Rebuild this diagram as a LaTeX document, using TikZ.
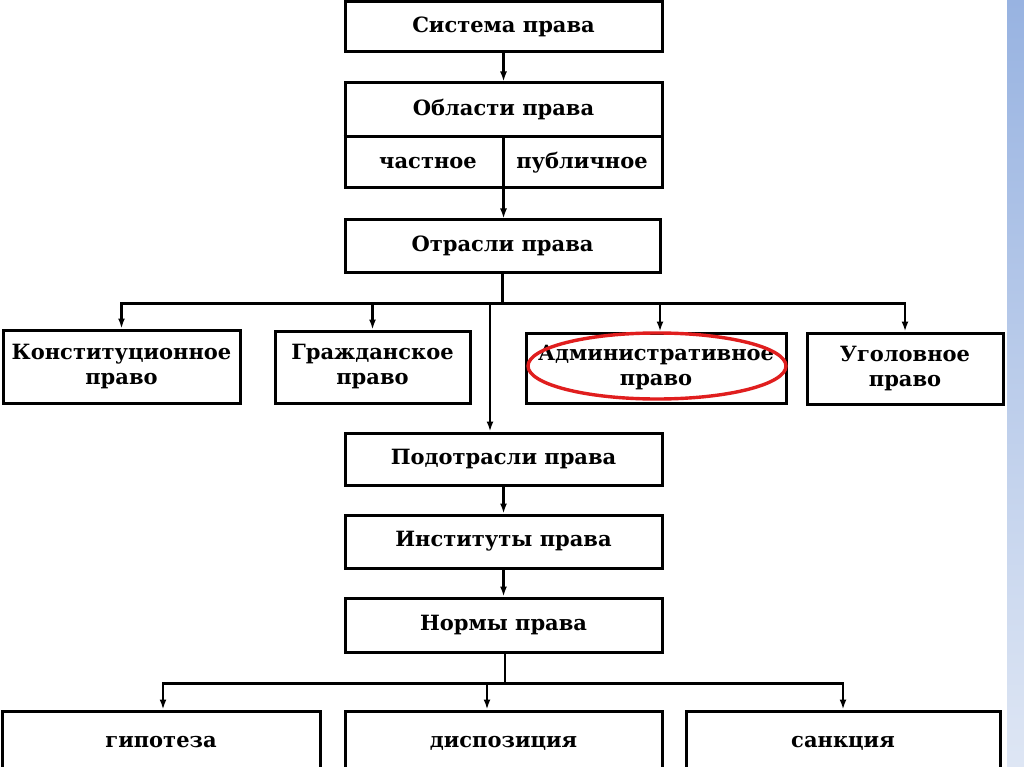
\documentclass[tikz,border=0pt]{standalone}
\usepackage{fontspec}
\setmainfont{DejaVu Serif}
\usetikzlibrary{arrows.meta, positioning}
\definecolor{markred}{HTML}{E01E1E}
\definecolor{stripetop}{HTML}{98B3E1}
\definecolor{stripebot}{HTML}{DEE6F4}

\begin{document}
\begin{tikzpicture}[
    x=1pt, y=-1pt,
    >={Latex[length=10pt,width=7pt]},
    line width=2.5pt,
    font=\fontsize{21}{25}\selectfont\bfseries,
    box/.style={draw=black, line width=3pt, rectangle, inner sep=0pt, minimum width=#1, align=center},
    box/.default=317pt,
    label_style/.style={inner sep=0pt},
    low_style/.style={text height=11pt, text depth=4pt}
]
    \useasboundingbox (0,0) rectangle (1024,767);
    \fill[white] (0,0) rectangle (1024,767);

    % Blue strip on the right edge
    \shade[top color=stripetop, bottom color=stripebot] (1007,0) rectangle (1024,767);

    % --- Upper chain ---
    \node[box, minimum height=50pt] (sys) at (503.5, 27) {Система права};
    \node[box, minimum height=105pt] (obl) at (503.5, 135.5) {};
    \node[label_style] (obl_title) at (503.5, 110) {Области права};
    \node[label_style] (chast) at (428, 163) {частное};
    \node[label_style] (publ) at (582, 163) {публичное};
    \node[box=315pt, minimum height=52pt] (otr) at (502.5, 246) {Отрасли права};

    % Divider inside "Области права"
    \coordinate (div) at (503.5, 137);
    \draw[line width=3pt] (obl.west |- div) -- (obl.east |- div);

    \draw[->] (sys) -- (obl);
    \draw[->] (div) -- (div |- otr.north);

    % --- Branches of law ---
    \node[box=237pt, minimum height=73pt] (konst) at (121.5, 366.5) {Конституционное\\право};
    \node[box=195pt, minimum height=72pt] (grazh) at (372.5, 367) {Гражданское\\право};
    \node[box=260pt, minimum height=70pt] (adm) at (656, 368) {Административное\\право};
    \node[box=196pt, minimum height=71pt] (ugol) at (905, 368.5) {Уголовное\\право};

    \draw (otr.south) -- ++(0, 30) coordinate (bus);
    \draw[->] (bus) -| (konst);
    \draw[->] (bus) -| (grazh);
    \draw[->] (bus) -| ([xshift=4pt]adm.north);
    \draw[->] (bus) -| (ugol);

    % Red mark round "Административное право"
    \draw[markred, line width=3.4pt] (657, 366) ellipse [x radius=129pt, y radius=33pt];

    % --- Lower chain ---
    \node[box, minimum height=52pt] (podotr) at (503.5, 459) {Подотрасли права};
    \node[box, minimum height=53pt] (inst) at (503.5, 541.5) {Институты права};
    \node[box, minimum height=54pt] (norm) at (503.5, 625) {Нормы права};

    \coordinate (bus2) at (490, 302);
    \draw[->] (bus2) -- (bus2 |- podotr.north);
    \draw[->] (podotr) -- (inst);
    \draw[->] (inst) -- (norm);

    % --- Elements of a norm ---
    \node[box=318pt, low_style, minimum height=66pt] (gip) at (161, 744) {гипотеза};
    \node[box, low_style, minimum height=66pt] (disp) at (503.5, 744) {диспозиция};
    \node[box=314pt, low_style, minimum height=66pt] (sank) at (843, 744) {санкция};

    \draw ([xshift=1.5pt]norm.south) -- ++(0, 30) coordinate (nbus);
    \draw[->] (nbus) -| ([xshift=2pt]gip.north);
    \draw[->] (nbus) -| (sank);
    \coordinate (nbus2) at (487, 682);
    \draw[->] (nbus2) -- (nbus2 |- disp.north);

\end{tikzpicture}
\end{document}
